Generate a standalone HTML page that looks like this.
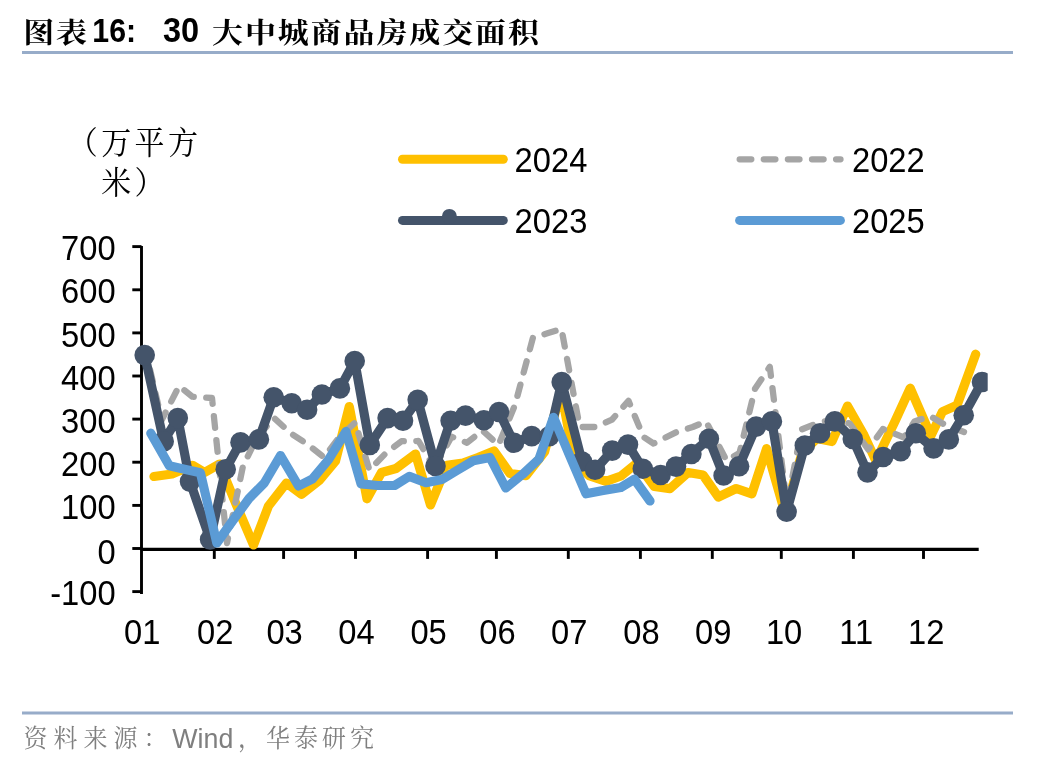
<!DOCTYPE html>
<html lang="zh-CN"><head><meta charset="utf-8"><title>图表16: 30大中城商品房成交面积</title>
<style>
html,body{margin:0;padding:0;background:#fff;}
body{width:1048px;height:764px;overflow:hidden;position:relative;font-family:"Liberation Sans","Noto Serif CJK SC",sans-serif;}
svg{position:absolute;left:0;top:0;display:block;}
.ax{font-family:"Liberation Sans",sans-serif;font-size:32px;fill:#000;}
.cn{font-family:"Liberation Sans","Noto Serif CJK SC",serif;}
</style></head><body>
<svg width="1048" height="764" viewBox="0 0 1048 764">
<rect width="1048" height="764" fill="#fff"/>
<!-- title -->
<g id="title" font-weight="bold" fill="#000" style="font-family:'Liberation Sans','Noto Serif CJK SC',serif">
<text transform="translate(23.2 42.8) scale(1 0.93)" font-size="31" letter-spacing="1.9">图表</text>
<text transform="translate(92.3 42.0) scale(1 1.1)" font-size="30.3">16:</text>
<text transform="translate(163.0 42.0) scale(1 1.055)" font-size="32.5">30</text>
<text transform="translate(212.0 42.8) scale(1 0.93)" font-size="31" letter-spacing="1.9">大中城商品房成交面积</text>
</g>
<rect x="22" y="51" width="991" height="3" fill="#97acc9"/>
<!-- unit label -->
<g class="cn" font-size="32" fill="#000" text-anchor="middle" style="font-family:'Liberation Sans','Noto Serif CJK SC',serif">
<text transform="translate(134.6 153.5) scale(1 1.055)" font-size="30" letter-spacing="3.4">（万平方</text>
<text transform="translate(134.6 193.5) scale(1 1.055)" font-size="30" letter-spacing="3.4">米）</text>
</g>
<!-- legend -->
<g fill="none" stroke-linecap="round">
<line x1="402.5" y1="159.3" x2="503.3" y2="159.3" stroke="#ffc000" stroke-width="9"/>
<line x1="739.7" y1="159.3" x2="840.5" y2="159.3" stroke="#a5a5a5" stroke-width="6.3" stroke-dasharray="11.6 12.5"/>
<line x1="402.5" y1="220.4" x2="503.3" y2="220.4" stroke="#44546a" stroke-width="9"/>
<line x1="739.6" y1="220.4" x2="840.4" y2="220.4" stroke="#5b9bd5" stroke-width="9"/>
</g>
<circle cx="449.4" cy="216.4" r="7.5" fill="#44546a"/>
<g class="ax">
<text transform="translate(514.6 172.0) scale(1 1.055)" font-size="32.7">2024</text>
<text transform="translate(852.0 172.0) scale(1 1.055)" font-size="32.7">2022</text>
<text transform="translate(514.6 233.0) scale(1 1.055)" font-size="32.7">2023</text>
<text transform="translate(852.0 233.0) scale(1 1.055)" font-size="32.7">2025</text>
</g>
<g stroke="#000" stroke-width="2.9" fill="none">
<line x1="141.5" y1="246" x2="141.5" y2="594"/>
<line x1="141" y1="549.4" x2="978.7" y2="549.4" stroke-width="3.1"/><line x1="132.3" y1="548.5" x2="141.5" y2="548.5"/>
<line x1="132.3" y1="591.6" x2="141.5" y2="591.6"/><line x1="132.3" y1="505.4" x2="141.5" y2="505.4"/><line x1="132.3" y1="462.2" x2="141.5" y2="462.2"/><line x1="132.3" y1="419.1" x2="141.5" y2="419.1"/><line x1="132.3" y1="376.0" x2="141.5" y2="376.0"/><line x1="132.3" y1="332.9" x2="141.5" y2="332.9"/><line x1="132.3" y1="289.8" x2="141.5" y2="289.8"/><line x1="132.3" y1="246.6" x2="141.5" y2="246.6"/><line x1="214.3" y1="549.4" x2="214.3" y2="558.9"/><line x1="283.6" y1="549.4" x2="283.6" y2="558.9"/><line x1="355.5" y1="549.4" x2="355.5" y2="558.9"/><line x1="427.6" y1="549.4" x2="427.6" y2="558.9"/><line x1="496.4" y1="549.4" x2="496.4" y2="558.9"/><line x1="568.3" y1="549.4" x2="568.3" y2="558.9"/><line x1="640.4" y1="549.4" x2="640.4" y2="558.9"/><line x1="712.3" y1="549.4" x2="712.3" y2="558.9"/><line x1="781.3" y1="549.4" x2="781.3" y2="558.9"/><line x1="853.4" y1="549.4" x2="853.4" y2="558.9"/><line x1="923.5" y1="549.4" x2="923.5" y2="558.9"/>
</g>
<defs><clipPath id="pc"><rect x="100" y="240" width="887.7" height="360"/></clipPath></defs>
<g clip-path="url(#pc)" fill="none" stroke-linecap="round" stroke-linejoin="round">
<polyline points="154.0,476.5 172.0,474.0 192.5,465.3 204.5,472.5 219.5,464.0 236.0,504.0 253.5,545.0 268.5,506.0 286.4,483.0 301.5,494.3 319.0,480.7 335.5,461.0 349.3,406.5 367.0,498.8 381.5,472.5 396.0,468.5 415.5,454.0 430.5,505.0 446.8,465.3 463.0,463.0 478.0,457.5 494.0,451.0 510.0,473.5 526.0,475.6 544.5,452.0 561.0,390.5 574.5,462.0 589.7,476.0 606.0,481.3 621.0,476.0 637.0,463.0 654.3,486.5 670.0,488.6 688.0,472.5 703.0,475.0 718.4,497.0 736.2,488.5 751.9,493.8 766.6,448.7 785.0,513.0 802.0,453.0 817.0,438.5 832.0,441.5 847.5,406.0 863.4,434.0 876.0,461.0 895.6,420.0 910.2,388.2 930.9,435.8 942.5,411.6 957.0,405.3 975.7,354.2" stroke="#ffc000" stroke-width="9.2"/>
<g stroke="#a5a5a5" stroke-width="6.3" stroke-dasharray="11.6 12.5">
<polyline points="146.2,353.0 161.7,420.0 179.1,386.0 192.4,396.7 212.0,398.0 227.0,543.0 243.0,466.0 257.0,437.5 274.0,418.0 291.0,433.5 307.0,444.0 324.0,457.3 339.0,437.5 355.2,422.5 369.4,470.0 385.5,453.5 401.5,441.2 418.5,441.0 434.5,468.0" stroke-dashoffset="6.7"/>
<polyline points="434.5,468.0 451.5,436.7 466.9,442.7 482.5,430.5 498.5,445.0 515.0,405.0 533.0,337.5 547.4,333.3 561.5,329.0 579.7,427.0 595.8,427.0 612.0,419.6 628.5,400.8 643.5,437.0 653.5,443.5 676.6,432.0 692.7,427.0 706.0,421.4 726.5,460.5 739.5,453.0 755.0,388.8 769.8,366.8 787.0,505.0" stroke-dashoffset="22.4"/>
<polyline points="787.0,505.0 801.5,429.5 817.7,423.0 833.7,419.5 849.8,423.5 868.2,449.5 882.9,429.0 904.0,437.5 914.5,421.5 930.0,416.0 946.0,425.5 964.0,432.0" stroke-dashoffset="18.8"/>
</g>
<polyline points="144.7,355.1 163.7,441.4 177.8,418.0 190.0,481.6 210.1,539.5 225.7,469.2 240.5,442.4 258.9,439.4 273.7,397.3 291.7,403.2 307.1,409.7 321.9,394.5 339.9,388.4 354.7,361.0 369.8,445.0 387.6,418.1 403.0,420.8 417.7,399.8 435.5,466.0 450.6,420.8 465.5,415.6 483.9,420.3 499.0,412.0 514.0,442.8 531.7,436.1 549.3,436.3 561.7,382.1 582.0,461.5 595.1,469.7 612.2,450.6 628.0,444.6 642.8,468.7 660.6,475.0 676.0,466.6 691.4,454.0 708.9,438.8 723.6,475.5 739.1,466.2 756.1,426.6 771.9,421.4 786.6,511.8 804.8,445.5 820.1,433.3 834.8,421.4 852.8,439.0 867.5,472.4 883.1,457.0 900.7,451.3 915.8,433.3 933.6,448.4 948.8,439.4 963.7,415.2 982.0,382.0" stroke="#44546a" stroke-width="9.2"/>
<g fill="#44546a" stroke="none"><circle cx="144.7" cy="355.1" r="10.3"/><circle cx="163.7" cy="441.4" r="10.3"/><circle cx="177.8" cy="418.0" r="10.3"/><circle cx="190.0" cy="481.6" r="10.3"/><circle cx="210.1" cy="539.5" r="10.3"/><circle cx="225.7" cy="469.2" r="10.3"/><circle cx="240.5" cy="442.4" r="10.3"/><circle cx="258.9" cy="439.4" r="10.3"/><circle cx="273.7" cy="397.3" r="10.3"/><circle cx="291.7" cy="403.2" r="10.3"/><circle cx="307.1" cy="409.7" r="10.3"/><circle cx="321.9" cy="394.5" r="10.3"/><circle cx="339.9" cy="388.4" r="10.3"/><circle cx="354.7" cy="361.0" r="10.3"/><circle cx="369.8" cy="445.0" r="10.3"/><circle cx="387.6" cy="418.1" r="10.3"/><circle cx="403.0" cy="420.8" r="10.3"/><circle cx="417.7" cy="399.8" r="10.3"/><circle cx="435.5" cy="466.0" r="10.3"/><circle cx="450.6" cy="420.8" r="10.3"/><circle cx="465.5" cy="415.6" r="10.3"/><circle cx="483.9" cy="420.3" r="10.3"/><circle cx="499.0" cy="412.0" r="10.3"/><circle cx="514.0" cy="442.8" r="10.3"/><circle cx="531.7" cy="436.1" r="10.3"/><circle cx="549.3" cy="436.3" r="10.3"/><circle cx="561.7" cy="382.1" r="10.3"/><circle cx="582.0" cy="461.5" r="10.3"/><circle cx="595.1" cy="469.7" r="10.3"/><circle cx="612.2" cy="450.6" r="10.3"/><circle cx="628.0" cy="444.6" r="10.3"/><circle cx="642.8" cy="468.7" r="10.3"/><circle cx="660.6" cy="475.0" r="10.3"/><circle cx="676.0" cy="466.6" r="10.3"/><circle cx="691.4" cy="454.0" r="10.3"/><circle cx="708.9" cy="438.8" r="10.3"/><circle cx="723.6" cy="475.5" r="10.3"/><circle cx="739.1" cy="466.2" r="10.3"/><circle cx="756.1" cy="426.6" r="10.3"/><circle cx="771.9" cy="421.4" r="10.3"/><circle cx="786.6" cy="511.8" r="10.3"/><circle cx="804.8" cy="445.5" r="10.3"/><circle cx="820.1" cy="433.3" r="10.3"/><circle cx="834.8" cy="421.4" r="10.3"/><circle cx="852.8" cy="439.0" r="10.3"/><circle cx="867.5" cy="472.4" r="10.3"/><circle cx="883.1" cy="457.0" r="10.3"/><circle cx="900.7" cy="451.3" r="10.3"/><circle cx="915.8" cy="433.3" r="10.3"/><circle cx="933.6" cy="448.4" r="10.3"/><circle cx="948.8" cy="439.4" r="10.3"/><circle cx="963.7" cy="415.2" r="10.3"/><circle cx="982.0" cy="382.0" r="10.3"/></g>
<polyline points="150.8,433.2 169.3,465.8 184.5,469.3 200.4,472.8 216.8,543.0 232.5,521.0 249.0,498.5 264.3,483.0 280.5,455.5 298.5,486.0 312.6,478.8 328.4,459.9 346.0,431.4 361.0,483.8 377.8,485.5 394.6,485.5 409.3,476.4 426.0,482.7 441.8,479.6 457.5,470.1 473.3,460.7 490.0,457.5 505.8,488.0 522.6,474.3 539.0,459.0 553.5,417.3 569.6,455.5 586.0,493.8 601.8,490.7 620.8,487.5 634.4,479.2 650.0,501.0" stroke="#5b9bd5" stroke-width="9.2"/>
</g>
<g class="ax" text-anchor="end">
<text transform="translate(115.6 605.2) scale(1 1.055)" font-size="32.7">-100</text><text transform="translate(115.6 563.5) scale(1 1.055)" font-size="32.7">0</text><text transform="translate(115.6 519.0) scale(1 1.055)" font-size="32.7">100</text><text transform="translate(115.6 475.9) scale(1 1.055)" font-size="32.7">200</text><text transform="translate(115.6 432.7) scale(1 1.055)" font-size="32.7">300</text><text transform="translate(115.6 389.6) scale(1 1.055)" font-size="32.7">400</text><text transform="translate(115.6 346.5) scale(1 1.055)" font-size="32.7">500</text><text transform="translate(115.6 303.4) scale(1 1.055)" font-size="32.7">600</text><text transform="translate(115.6 260.2) scale(1 1.055)" font-size="32.7">700</text>
</g>
<g class="ax" text-anchor="middle">
<text transform="translate(142.3 643.6) scale(1 1.055)" font-size="32.7">01</text><text transform="translate(215.3 643.6) scale(1 1.055)" font-size="32.7">02</text><text transform="translate(284.6 643.6) scale(1 1.055)" font-size="32.7">03</text><text transform="translate(356.5 643.6) scale(1 1.055)" font-size="32.7">04</text><text transform="translate(428.6 643.6) scale(1 1.055)" font-size="32.7">05</text><text transform="translate(497.4 643.6) scale(1 1.055)" font-size="32.7">06</text><text transform="translate(569.3 643.6) scale(1 1.055)" font-size="32.7">07</text><text transform="translate(641.4 643.6) scale(1 1.055)" font-size="32.7">08</text><text transform="translate(713.3 643.6) scale(1 1.055)" font-size="32.7">09</text><text transform="translate(784.1 643.6) scale(1 1.055)" font-size="32.7">10</text><text transform="translate(856.2 643.6) scale(1 1.055)" font-size="32.7">11</text><text transform="translate(926.3 643.6) scale(1 1.055)" font-size="32.7">12</text>
</g>
<rect x="22" y="711.5" width="991" height="3" fill="#97acc9"/>
<g id="foot" fill="#7f7f7f" style="font-family:'Liberation Sans','Noto Serif CJK SC',serif">
<text transform="translate(23.5 747.0) scale(1 1.055)" font-size="24" letter-spacing="6">资料来源：</text>
<text transform="translate(172.3 747.5) scale(1 1.055)" font-size="26.8">Wind</text>
<text transform="translate(238.0 747.0) scale(1 1.055)" font-size="24" letter-spacing="4">，华泰研究</text>
</g>
</svg>
</body></html>
